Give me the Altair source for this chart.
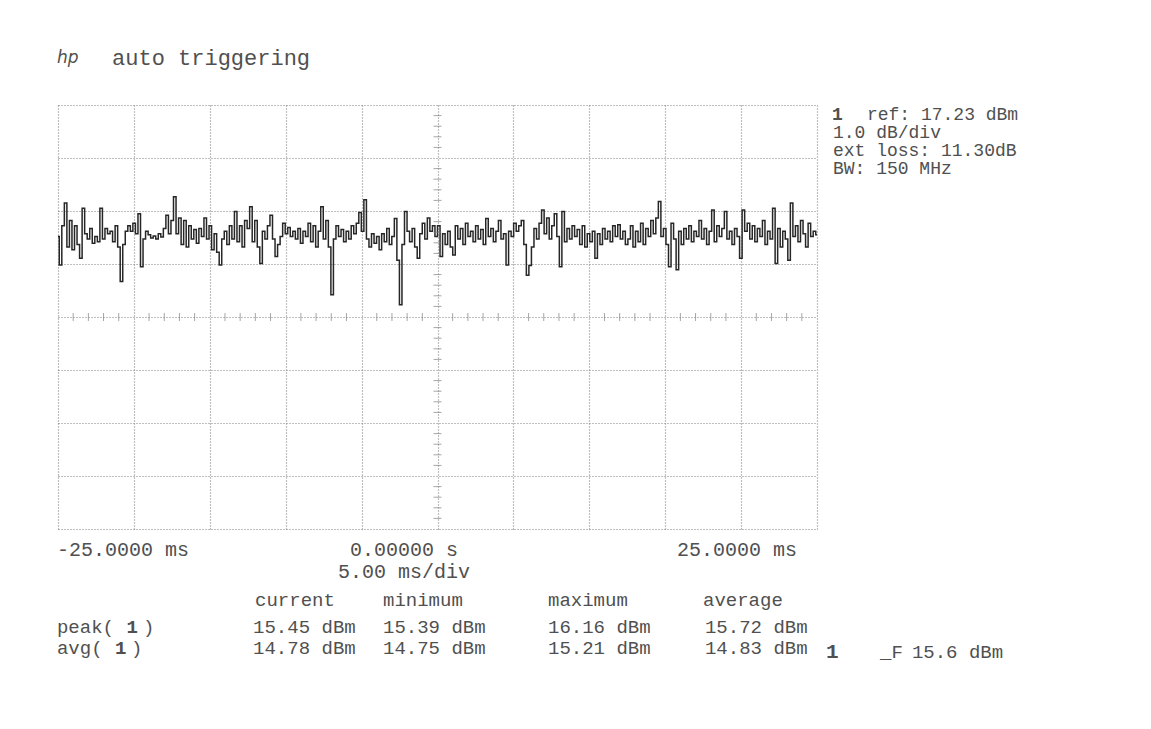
import altair as alt
import numpy as np
import pandas as pd

strip1 = [14.75, 14.21, 14.95, 15.38, 14.55, 15.05, 14.50, 14.95, 14.60, 14.34,
          15.28, 14.80, 14.70, 14.90, 14.62, 14.75, 14.65, 15.28, 14.70, 14.90,
          14.80, 14.85, 14.65, 14.95, 14.55, 13.90, 14.60, 14.85, 14.95, 14.85,
          15.00, 14.80, 15.18, 14.18, 14.70, 14.85, 14.78, 14.72, 14.76, 14.70,
          14.80, 14.74, 14.90, 15.15, 14.80, 15.05, 15.50, 14.80, 15.10, 14.60,
          15.05, 14.55, 14.95, 14.70, 14.88, 14.62, 14.90, 14.75, 15.10, 14.70,
          14.95, 14.50, 14.80, 14.45, 14.21, 14.70, 14.85, 14.60, 14.95, 14.70,
          15.22, 14.65, 14.95, 14.55, 15.05]
strip2 = [14.90, 15.31, 14.65, 15.05, 14.55, 14.24, 14.85, 14.70, 14.95, 15.15,
          14.70, 14.37, 14.60, 14.75, 15.00, 14.80, 14.92, 14.75, 14.85, 14.70,
          14.90, 14.62, 14.85, 14.75, 15.00, 14.65, 14.95, 14.55, 14.85, 15.31,
          14.70, 15.05, 14.55, 13.65, 14.70, 14.95, 14.75, 14.88, 14.65, 14.85,
          14.70, 14.95, 14.80, 15.00, 15.20, 14.85, 15.44, 14.70, 14.55, 14.80,
          14.62, 14.75, 14.50, 14.80, 14.65, 14.90, 14.60, 14.75, 15.09, 14.30,
          13.46, 14.60, 15.22, 14.85, 14.65, 14.90, 14.55, 14.34, 14.80, 15.00,
          14.70, 15.10, 14.85, 14.95, 14.75]
strip3 = [14.95, 14.37, 14.80, 14.60, 14.85, 14.55, 14.40, 14.95, 14.70, 14.90,
          14.60, 15.00, 14.75, 14.85, 14.65, 14.95, 14.70, 14.88, 14.60, 15.09,
          14.75, 14.90, 14.65, 14.85, 15.05, 14.70, 14.80, 14.21, 14.85, 14.75,
          15.00, 14.85, 14.95, 15.05, 14.60, 14.02, 14.20, 14.55, 14.90, 14.70,
          15.00, 15.25, 14.80, 15.10, 14.70, 14.95, 15.18, 14.75, 14.18, 15.22,
          14.65, 14.90, 14.70, 14.95, 14.75, 14.88, 14.60, 14.95, 14.55, 14.80,
          14.65, 14.85, 14.34, 14.80, 14.60, 14.90, 14.70, 14.85, 14.65, 14.95,
          14.75, 14.97, 14.70, 14.85, 14.60]
strip4 = [14.70, 14.95, 14.55, 14.85, 14.65, 15.00, 14.60, 14.90, 14.75, 15.05,
          14.80, 15.10, 15.41, 14.75, 14.90, 14.60, 14.18, 15.00, 14.70, 14.12,
          14.85, 14.60, 14.90, 14.70, 14.95, 14.65, 14.85, 14.75, 15.05, 14.70,
          14.90, 14.60, 14.85, 15.25, 14.65, 14.95, 14.75, 14.90, 15.22, 14.70,
          14.85, 14.60, 14.90, 14.75, 14.34, 15.25, 14.85, 15.00, 14.70, 14.95,
          14.65, 14.90, 14.75, 15.05, 14.60, 14.85, 14.70, 15.28, 14.24, 14.90,
          14.55, 14.85, 14.70, 14.30, 15.38, 14.75, 14.95, 14.65, 15.05, 14.80,
          14.55, 15.00, 14.75, 14.85, 14.78]
power_dbm = strip1 + strip2 + strip3 + strip4
time_ms = np.linspace(-25.0, 25.0, len(power_dbm))

# ---- display settings ----
ref_dbm = 17.23
db_per_div = 1.0
n_ydiv = 8
ms_per_div = 5.0

# ---- statistics table ----
stat_cols = ["current", "minimum", "maximum", "average"]
peak_vals = ["15.45 dBm", "15.39 dBm", "16.16 dBm", "15.72 dBm"]
avg_vals = ["14.78 dBm", "14.75 dBm", "15.21 dBm", "14.83 dBm"]
header_t = [-12.02, -3.59, 7.28, 17.49]
col_t = [-12.15, -3.59, 7.28, 17.62]

y_bot = ref_dbm - n_ydiv * db_per_div
x_scale = alt.Scale(domain=[-25, 25], nice=False, zero=False)
y_scale = alt.Scale(domain=[y_bot, ref_dbm], nice=False, zero=False)

FONT = "Liberation Mono"
TXT = "#505050"
GRID = "#808080"

trace_df = pd.DataFrame({"t": time_ms, "p": power_dbm})

trace = alt.Chart(trace_df).mark_line(
    interpolate="step", color="#262626", strokeWidth=1.5
).encode(
    x=alt.X("t:Q", scale=x_scale, title=None,
            axis=alt.Axis(values=[-25 + ms_per_div * i for i in range(11)],
                          grid=True, labels=False, ticks=False, domain=False,
                          gridDash=[1, 2], gridColor=GRID, gridWidth=1.2)),
    y=alt.Y("p:Q", scale=y_scale, title=None,
            axis=alt.Axis(values=[round(y_bot + i, 2) for i in range(n_ydiv + 1)],
                          grid=True, labels=False, ticks=False, domain=False,
                          gridDash=[1, 2], gridColor=GRID, gridWidth=1.2)),
)

# minor ticks on the centre cross
centre_v = ref_dbm - 4 * db_per_div
hticks = pd.DataFrame({"t": [t for t in range(-24, 25) if t % 5 != 0]})
hticks["p"] = centre_v
vticks = pd.DataFrame({"p": [round(y_bot + 0.2 * k, 2) for k in range(41) if k % 5 != 0]})
vticks["t"] = 0.0

htick_layer = alt.Chart(hticks).mark_tick(
    orient="vertical", size=8, thickness=1, color=GRID
).encode(x=alt.X("t:Q", scale=x_scale), y=alt.Y("p:Q", scale=y_scale))
vtick_layer = alt.Chart(vticks).mark_tick(
    orient="horizontal", size=8, thickness=1, color=GRID
).encode(x=alt.X("t:Q", scale=x_scale), y=alt.Y("p:Q", scale=y_scale))

# ---- text annotations (placed in data units: ms, dBm) ----
row_peak = 7.39
row_avg = 6.98
normal_rows = [
    (-21.44, 18.12, "auto triggering", 22),
    (28.29, 17.04, "ref: 17.23 dBm", 18),
    (26.05, 16.70, "1.0  dB/div", 18),
    (26.05, 16.36, "ext loss: 11.30dB", 18),
    (26.05, 16.02, "BW: 150  MHz", 18),
    (-25.07, 8.83, "-25.0000 ms", 20),
    (-5.76, 8.83, "0.00000  s", 20),
    (15.78, 8.83, "25.0000 ms", 20),
    (-6.55, 8.42, "5.00 ms/div", 20),
    (-25.07, row_peak, "peak(", 19),
    (-19.40, row_peak, ")", 19),
    (-25.07, row_avg, "avg(", 19),
    (-20.19, row_avg, ")", 19),
    (29.15, 6.91, "_F", 19),
    (31.25, 6.91, "15.6 dBm", 19),
]
for t, name in zip(header_t, stat_cols):
    normal_rows.append((t, 7.89, name, 19))
for t, val in zip(col_t, peak_vals):
    normal_rows.append((t, row_peak, val, 19))
for t, val in zip(col_t, avg_vals):
    normal_rows.append((t, row_avg, val, 19))

bold_rows = [
    (25.99, 17.04, "1", 18),
    (-20.49, row_peak, "1", 19),
    (-21.25, row_avg, "1", 19),
    (25.59, 6.91, "1", 21),
]
italic_rows = [(-25.07, 18.12, "hp", 17)]


def text_layer(rows, font=FONT, **kw):
    df = pd.DataFrame(rows, columns=["t", "p", "label", "fs"])
    return alt.Chart(df).mark_text(
        align="left", baseline="middle", font=font, color=TXT, **kw
    ).encode(
        x=alt.X("t:Q", scale=x_scale),
        y=alt.Y("p:Q", scale=y_scale),
        text="label:N",
        size=alt.Size("fs:Q", scale=None, legend=None),
    )


texts_n = text_layer(normal_rows)
texts_b = text_layer(bold_rows, fontWeight="bold")
texts_i = text_layer(italic_rows, font="DejaVu Sans", fontStyle="italic")

chart = alt.layer(
    trace, htick_layer, vtick_layer, texts_n, texts_b, texts_i
).properties(
    width=759, height=424,
    autosize=alt.AutoSizeParams(type="none"),
    padding={"left": 50, "top": 97, "right": 326, "bottom": 192},
    background="white",
).configure_view(stroke=None)

chart.save("out.html", embed_options={"renderer": "svg", "actions": False})
